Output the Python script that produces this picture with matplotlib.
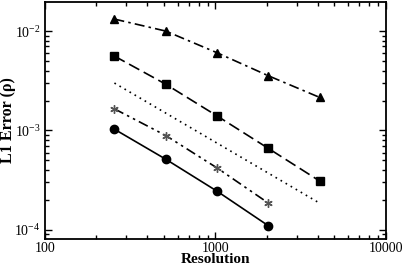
import matplotlib
matplotlib.use("Agg")
import matplotlib.pyplot as plt
from matplotlib.ticker import LogLocator, NullFormatter

plt.rcParams['font.family'] = ['Liberation Serif', 'DejaVu Serif']
plt.rcParams['mathtext.fontset'] = 'custom'
plt.rcParams['mathtext.rm'] = 'Liberation Serif'
plt.rcParams['mathtext.it'] = 'Liberation Serif:italic'
plt.rcParams['mathtext.bf'] = 'Liberation Serif:bold'

res = [256, 512, 1024, 2048, 4096]
res4 = [256, 512, 1024, 2048]
tri = [0.0132, 0.0100, 0.00605, 0.00355, 0.00215]
sq = [0.0056, 0.00292, 0.0014, 0.00066, 0.00031]
ref_x = [256, 4000]
ref_y = [0.003, 0.00019]
star = [0.00165, 0.00089, 0.00042, 0.000186]
circ = [0.00103, 0.000514, 0.000245, 0.00011]

fig = plt.figure(figsize=(4.04, 2.69), dpi=100)
ax = fig.add_axes([0.111, 0.1115, 0.844, 0.881])

lw = 1.2
ax.plot(res, tri, color='black', lw=lw, linestyle=(0, (6, 2.5, 1.5, 2.5)), marker='^', ms=6)
ax.plot(res, sq, color='black', lw=lw, linestyle=(0, (7, 3)), marker='s', ms=5.5)
ax.plot(ref_x, ref_y, color='black', lw=lw, linestyle=(0, (1, 2.5)))
ax.plot(res4, star, color='black', lw=lw, linestyle=(0, (6, 2.5, 1.5, 2.5, 1.5, 2.5)))
ax.plot(res4, star, linestyle='none', marker=(6, 2, 0), ms=6, mec='#555555', mew=1.0)
ax.plot(res4, circ, color='black', lw=lw, linestyle='-', marker='o', ms=6)

ax.set_xscale('log')
ax.set_yscale('log')
ax.set_xlim(100, 10000)
ax.set_ylim(8.1e-5, 1.96e-2)

ax.set_xticks([100, 1000, 10000])
ax.set_xticklabels(['100', '1000', '10000'])
ax.set_yticks([1e-4, 1e-3, 1e-2])
ax.set_yticklabels([r'$10^{-4}$', r'$10^{-3}$', r'$10^{-2}$'])
ax.xaxis.set_minor_locator(LogLocator(base=10, subs=range(2, 10)))
ax.yaxis.set_minor_locator(LogLocator(base=10, subs=range(2, 10)))
ax.xaxis.set_minor_formatter(NullFormatter())
ax.yaxis.set_minor_formatter(NullFormatter())

ax.tick_params(which='both', direction='in', top=True, right=True, labelsize=10, width=1.0)
ax.tick_params(which='major', length=5, pad=3)
ax.tick_params(axis='x', which='major', pad=2)
ax.tick_params(which='minor', length=3)
for s in ax.spines.values():
    s.set_linewidth(1.3)

ax.set_xlabel('Resolution', fontsize=11, fontweight='bold', labelpad=-1)
ax.set_ylabel('L1 Error (ρ)', fontsize=11.5, fontweight='bold', labelpad=-1)

fig.savefig('out.png', dpi=100)
